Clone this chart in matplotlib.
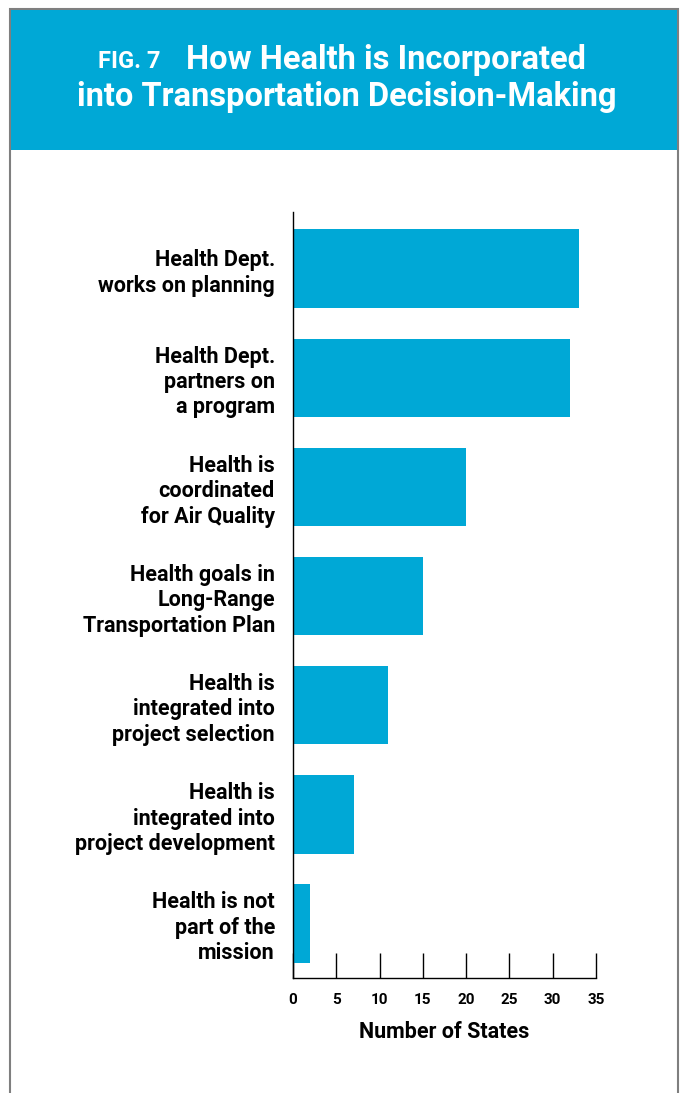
import matplotlib.pyplot as plt
from matplotlib.patches import Rectangle

# survey results: number of states per category
labels = [
    'Health Dept.\nworks on planning',
    'Health Dept.\npartners on\na program',
    'Health is\ncoordinated\nfor Air Quality',
    'Health goals in\nLong-Range\nTransportation Plan',
    'Health is\nintegrated into\nproject selection',
    'Health is\nintegrated into\nproject development',
    'Health is not\npart of the\nmission',
]
states = [33, 32, 20, 15, 11, 7, 2]
xticks = [0, 5, 10, 15, 20, 25, 30, 35]

blue = '#00a8d6'
font = ['Roboto', 'DejaVu Sans']

fig = plt.figure(figsize=(6.8, 10.93), dpi=100)
fig.patch.set_facecolor('white')

# panel border and header band
W, H = 680.0, 1093.0
fig.patches.append(Rectangle((10 / W, -0.01), 668 / W, 1.0 - 9 / H + 0.01,
                             transform=fig.transFigure, facecolor='white',
                             edgecolor='#7f7f7f', linewidth=1.5, zorder=-2))
fig.patches.append(Rectangle((11 / W, 1 - 150 / H), 666 / W, 140 / H,
                             transform=fig.transFigure, facecolor=blue,
                             edgecolor='none', zorder=-1))

fig.text(586 / W, 1 - 60 / H, 'How Health is Incorporated', ha='right',
         va='center', color='white', fontsize=23.5, fontweight='bold', family=font)
fig.text(347 / W, 1 - 97 / H, 'into Transportation Decision-Making', ha='center',
         va='center', color='white', fontsize=23.5, fontweight='bold', family=font)
fig.text(98 / W, 1 - 62 / H, 'FIG. 7', ha='left', va='center', color='white',
         fontsize=17, fontweight='bold', family=font)

ax = fig.add_axes([293 / W, 1 - 978 / H, 303 / W, 766 / H])
ypos = list(range(len(states)))
ax.barh(ypos, states, height=0.72, color=blue, zorder=2)
ax.set_ylim(len(states) - 0.5, -0.52)
ax.set_xlim(0, 35)

ax.set_yticks(ypos)
ax.set_yticklabels(labels, fontsize=15.5, fontweight='bold', family=font,
                   linespacing=1.2)
ax.tick_params(axis='y', length=0, pad=13)

ax.set_xticks(xticks)
ax.set_xticklabels([str(t) for t in xticks], fontsize=11, fontweight='bold',
                   family=font)
ax.tick_params(axis='x', direction='in', length=18, width=1, pad=11)
ax.set_xlabel('Number of States', fontsize=15.5, fontweight='bold', family=font,
              labelpad=10)

for side in ['top', 'right']:
    ax.spines[side].set_visible(False)
ax.spines['left'].set_linewidth(1)
ax.spines['bottom'].set_linewidth(1)
ax.set_facecolor('none')

fig.savefig('out.png', dpi=100)
